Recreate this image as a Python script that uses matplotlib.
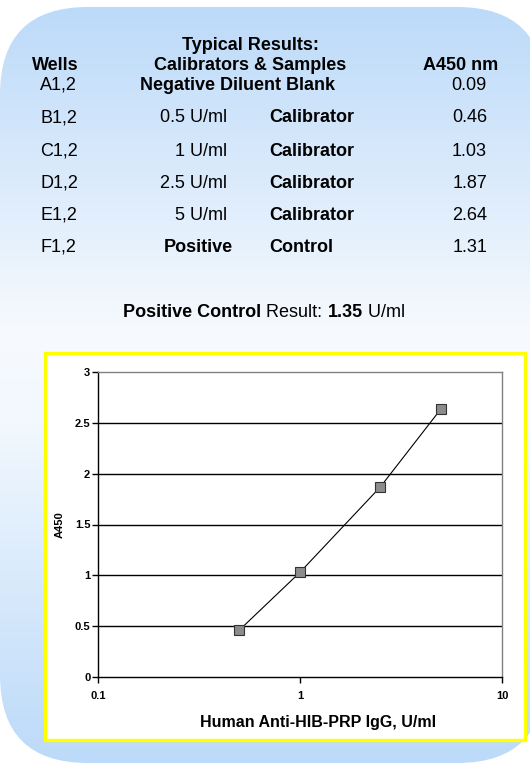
import numpy as np
import matplotlib
matplotlib.use("Agg")
import matplotlib.pyplot as plt
from matplotlib.patches import FancyBboxPatch, Rectangle
from matplotlib.colors import LinearSegmentedColormap
from matplotlib.offsetbox import TextArea, HPacker, AnchoredOffsetbox

plt.rcParams['font.family'] = ['Liberation Sans', 'DejaVu Sans']

# ---- data ----
wells = ["A1,2", "B1,2", "C1,2", "D1,2", "E1,2", "F1,2"]
sample_amount = ["", "0.5 U/ml", "1 U/ml", "2.5 U/ml", "5 U/ml", "Positive"]
sample_type = ["Negative Diluent Blank", "Calibrator", "Calibrator", "Calibrator", "Calibrator", "Control"]
a450 = ["0.09", "0.46", "1.03", "1.87", "2.64", "1.31"]

conc = [0.5, 1, 2.5, 5]
absorb = [0.46, 1.03, 1.87, 2.64]
yticks = [0, 0.5, 1, 1.5, 2, 2.5, 3]
xticks = [0.1, 1, 10]
xtick_labels = ["0.1", "1", "10"]

W, H = 530, 764
fig = plt.figure(figsize=(W / 100, H / 100), dpi=100)

# background axes in pixel coords
bg = fig.add_axes([0, 0, 1, 1])
bg.set_xlim(0, W)
bg.set_ylim(H, 0)
bg.axis('off')

cmap = LinearSegmentedColormap.from_list(
    "bgc", [(0.0, "#BCDAF9"), (0.43, "#F7FAFE"), (0.55, "#F2F8FE"), (1.0, "#BCDAF9")])
grad = np.linspace(0, 1, 256).reshape(-1, 1)
im = bg.imshow(grad, cmap=cmap, extent=[0, W, H, 7], aspect='auto', zorder=0)
R = 88
shape = FancyBboxPatch((0 + R, 7 + R), 545 - 2 * R, 763 - 7 - 2 * R, boxstyle=f"round,pad={R}",
                       facecolor='none', edgecolor='none', transform=bg.transData)
bg.add_patch(shape)
im.set_clip_path(shape)

# yellow frame
bg.add_patch(Rectangle((45, 353), 480, 387, facecolor='white', edgecolor='#FFFF00',
                       linewidth=2.4, zorder=1))

def t(x, y, s, ha='left', bold=False, size=13):
    bg.text(x, y, s, ha=ha, va='center', fontsize=size,
            fontweight='bold' if bold else 'normal', color='black', zorder=3)

t(250, 45, "Typical Results:", ha='center', bold=True)
t(250, 65, "Calibrators & Samples", ha='center', bold=True)
t(55, 65, "Wells", ha='center', bold=True)
t(498, 65, "A450 nm", ha='right', bold=True)

row_y = [85, 118, 151, 183, 215, 247]
for i, y in enumerate(row_y):
    t(40, y, wells[i])
    t(487, y, a450[i], ha='right')
    if i == 0:
        t(237, y, sample_type[i], ha='center', bold=True)
    else:
        if sample_amount[i] == "Positive":
            t(233, y, sample_amount[i], ha='right', bold=True)
        else:
            t(227, y, sample_amount[i], ha='right')
        t(269, y, sample_type[i], bold=True)

# result line
parts = [("Positive Control", True), (" Result: ", False), ("1.35", True), (" U/ml", False)]
boxes = [TextArea(s, textprops=dict(fontsize=13, fontweight='bold' if b else 'normal', color='black'))
         for s, b in parts]
pack = HPacker(children=boxes, align="baseline", pad=0, sep=0)
ab = AnchoredOffsetbox(loc='center', child=pack, pad=0, frameon=False,
                       bbox_to_anchor=(264 / W, 1 - 313 / H), bbox_transform=fig.transFigure)
bg.add_artist(ab)

# chart
ax = fig.add_axes([98 / W, 1 - 677 / H, 404 / W, 305 / H])
ax.set_zorder(5)
ax.set_facecolor('white')
ax.set_xscale('log')
ax.set_xlim(0.1, 10)
ax.set_ylim(0, 3)
ax.set_yticks(yticks)
ax.set_yticklabels([f"{v:g}" for v in yticks])
ax.set_xticks(xticks)
ax.set_xticklabels(xtick_labels)
ax.xaxis.set_minor_locator(matplotlib.ticker.NullLocator())
for v in yticks[1:-1]:
    ax.axhline(v, color='black', linewidth=1.0, zorder=1)
for s in ['top', 'right']:
    ax.spines[s].set_color('#808080')
    ax.spines[s].set_linewidth(1.0)
for s in ['left', 'bottom']:
    ax.spines[s].set_color('black')
    ax.spines[s].set_linewidth(1.0)
ax.tick_params(axis='both', direction='out', length=4, width=1, labelsize=8, pad=1.5)
ax.tick_params(axis='x', pad=6)
for lab in ax.get_xticklabels() + ax.get_yticklabels():
    lab.set_fontweight('bold')

ax.plot(conc, absorb, color='black', linewidth=0.8, marker='s', markersize=7.5,
        markerfacecolor='#8C8C8C', markeredgecolor='#333333', markeredgewidth=0.8, zorder=3)

ax.set_xlabel("Human Anti-HIB-PRP IgG, U/ml", fontsize=11.5, fontweight='bold')
ax.xaxis.set_label_coords((318 - 98) / 404, (677 - 723) / 305)
ax.xaxis.label.set_va('center')
ax.set_ylabel("A450", fontsize=8, fontweight='bold')
ax.yaxis.set_label_coords((60 - 98) / 404, 0.5)
ax.yaxis.label.set_va('center')

fig.savefig("out.png", dpi=100)
